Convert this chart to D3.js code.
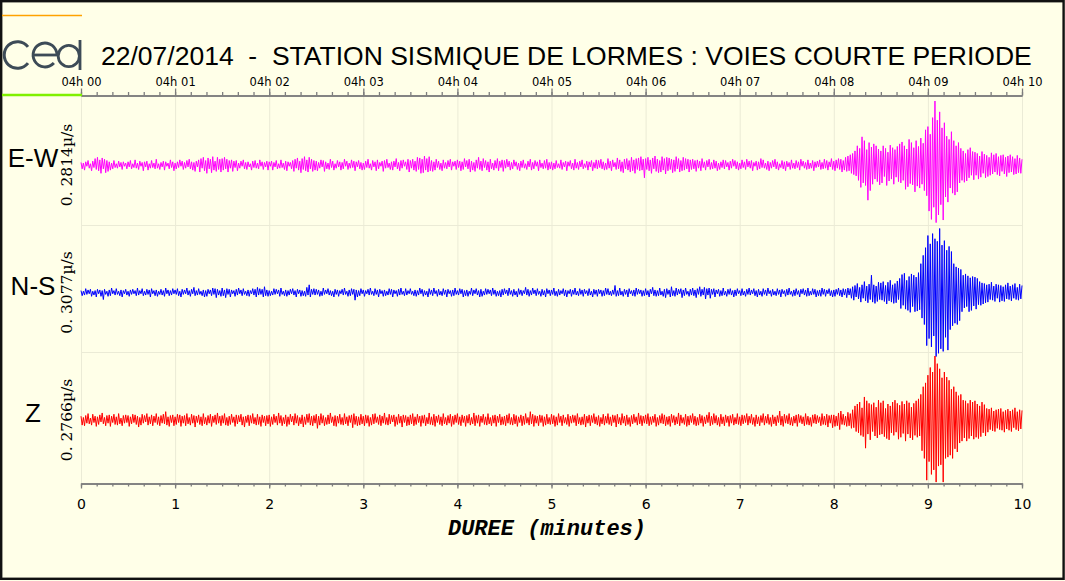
<!DOCTYPE html>
<html>
<head>
<meta charset="utf-8">
<title>Station sismique de Lormes</title>
<script src="https://d3js.org/d3.v7.min.js"></script>
<style>
  body { margin: 0; background: #ffffe8; }
  svg { display: block; }
</style>
</head>
<body>
<script>
// channel names, full scale labels and trace colours
const channels = ["E-W", "N-S", "Z"];
const scaleLabels = ["0. 2814\u00b5/s", "0. 3077\u00b5/s", "0. 2766\u00b5/s"];
const traceColors = ["#ff00ff", "#0000ff", "#ff0000"];

// axis ticks
const durationTicks = [0, 1, 2, 3, 4, 5, 6, 7, 8, 9, 10];
const clockLabels = ["04h 00", "04h 01", "04h 02", "04h 03", "04h 04", "04h 05",
                     "04h 06", "04h 07", "04h 08", "04h 09", "04h 10"];

// trace extrema, one every 0.75 s (0.0125 min),
// in % of the channel full scale; one line = half a minute
const ewAmp = [
  4,-6,3,-8,5,-2,7,-5,2,-9, 6,-4,10,-7,12,-9,8,-13,11,-6, 9,-12,7,-10,5,-8,3,-6,7,-4, 2,-5,6,-3,4,-7,5,-2,3,-6,
  5,-3,7,-6,2,-4,8,-5,3,-7, 6,-2,4,-9,5,-3,6,-8,2,-5, 7,-4,3,-6,9,-5,2,-7,4,-3, 6,-8,5,-2,3,-6,8,-4,5,-9,
  3,-6,5,-4,8,-2,6,-7,4,-5, 7,-3,9,-6,5,-8,4,-10,6,-3, 8,-11,10,-5,12,-9,7,-13,11,-6, 9,-12,13,-8,6,-10,12,-7,9,-11,
  10,-8,12,-6,9,-11,7,-5,8,-10, 6,-4,7,-9,3,-5,6,-2,8,-6, 4,-7,5,-3,2,-8,6,-4,7,-5, 3,-6,8,-2,5,-7,4,-3,6,-8,
  5,-2,6,-8,4,-3,7,-6,2,-5, 8,-4,3,-7,6,-9,5,-2,4,-6, 7,-10,9,-5,11,-8,6,-12,10,-7, 13,-9,8,-11,12,-6,9,-10,7,-8,
  6,-9,4,-5,8,-3,7,-10,5,-6, 3,-7,9,-4,6,-8,2,-5,7,-3, 5,-8,4,-6,9,-2,6,-7,3,-5, 8,-4,6,-9,5,-3,7,-6,4,-8,
  3,-7,6,-4,9,-5,2,-8,7,-3, 5,-9,8,-6,4,-2,6,-10,7,-5, 9,-4,3,-7,5,-8,6,-3,10,-6, 4,-9,7,-5,8,-2,5,-7,9,-11,
  7,-5,9,-8,6,-10,12,-7,11,-13, 9,-12,14,-8,10,-11,13,-9,7,-10, 5,-8,9,-4,6,-7,3,-9,8,-5, 4,-6,7,-3,9,-8,5,-2,6,-7,
  8,-4,6,-9,5,-7,10,-3,7,-6, 9,-11,6,-8,4,-10,8,-5,12,-7, 6,-9,10,-4,7,-8,5,-11,9,-6, 3,-8,7,-5,10,-9,6,-4,8,-10,
  7,-5,9,-3,6,-8,4,-6,8,-2, 5,-7,3,-9,6,-4,8,-5,2,-7, 6,-3,9,-8,4,-6,7,-2,5,-9, 8,-4,3,-6,7,-5,9,-8,4,-6,
  5,-8,3,-6,7,-4,2,-5,8,-7, 4,-3,6,-9,5,-2,7,-6,3,-8, 9,-5,4,-7,6,-3,8,-6,2,-4, 6,-8,5,-3,7,-9,4,-5,8,-6,
  7,-4,9,-6,5,-8,3,-7,10,-5, 6,-9,8,-3,4,-7,11,-6,8,-10, 5,-12,9,-6,10,-8,7,-11,12,-9, 8,-13,10,-7,11,-9,13,-8,9,-20,
  10,-7,12,-9,8,-13,11,-6,14,-10, 9,-12,7,-11,13,-8,10,-14,12,-9, 11,-7,9,-12,8,-10,13,-6,10,-11, 7,-9,12,-8,10,-6,9,-11,8,-7,
  9,-6,7,-10,8,-5,6,-9,10,-4, 5,-8,7,-3,9,-7,4,-6,8,-5, 6,-9,3,-7,5,-4,8,-6,7,-3, 4,-8,6,-5,9,-2,7,-6,5,-8,
  3,-6,8,-4,5,-7,9,-3,6,-5, 7,-9,4,-2,6,-8,5,-6,10,-4, 8,-5,3,-7,6,-9,4,-5,7,-3, 9,-6,5,-8,2,-4,7,-6,5,-9,
  6,-3,4,-7,8,-5,3,-6,7,-4, 5,-8,9,-2,6,-5,4,-7,8,-6, 3,-5,7,-9,5,-4,6,-3,8,-7, 4,-6,9,-5,7,-8,5,-3,10,-7,
  6,-9,8,-5,10,-7,9,-11,7,-8, 12,-10,14,-9,16,-13,18,-15,22,-17, 30,-24,26,-35,44,-28,38,-32,24,-55, 35,-40,28,-30,33,-22,30,-26,25,-31,
  22,-28,30,-18,26,-32,20,-25,31,-22, 27,-30,24,-19,29,-26,33,-28,36,-24, 30,-38,25,-34,40,-29,35,-31,27,-42, 38,-33,29,-36,42,-30,34,-40,55,-48,
  60,-72,48,-85,74,-66,100,-90,70,-78, 83,-62,58,-86,66,-50,45,-58,40,-36, 52,-44,38,-47,30,-42,35,-28,26,-24, 22,-27,18,-25,24,-20,27,-16,21,-23,
  20,-16,18,-22,14,-19,21,-13,17,-20, 15,-18,12,-16,19,-14,16,-11,18,-15, 13,-17,15,-10,16,-14,12,-18,14,-12, 16,-11,13,-15,10,-14,15,-12,11,-13,
  9
];
const nsAmp = [
  3,-5,2,-4,6,-3,4,-2,5,-6, 2,-4,3,-7,5,-2,4,-6,3,-11, 5,-3,2,-6,4,-5,7,-2,3,-4, 6,-3,2,-5,4,-7,3,-2,5,-4,
  2,-6,4,-3,5,-2,3,-5,7,-4, 3,-2,6,-5,2,-4,5,-3,4,-7, 6,-2,3,-5,4,-6,2,-3,5,-4, 3,-6,7,-2,4,-5,3,-4,6,-2,
  4,-3,6,-5,2,-7,5,-3,4,-2, 7,-4,3,-6,5,-2,8,-5,3,-4, 6,-3,2,-5,4,-7,3,-6,5,-2, 4,-5,7,-3,6,-8,5,-4,3,-6,
  7,-5,4,-8,6,-3,5,-7,4,-2, 3,-6,5,-4,7,-2,4,-5,6,-3, 2,-5,4,-6,3,-2,6,-4,5,-7, 8,-4,6,-3,5,-7,9,-5,4,-6,
  3,-5,2,-4,6,-3,5,-2,4,-6, 7,-3,2,-5,4,-6,3,-4,5,-2, 6,-4,3,-7,5,-2,4,-6,3,-5, 2,-6,8,-4,12,-7,5,-3,6,-4,
  5,-3,4,-6,2,-5,7,-3,4,-2, 6,-4,3,-5,2,-7,5,-3,4,-6, 3,-2,5,-4,7,-3,2,-6,4,-5, 6,-3,5,-12,4,-7,3,-5,6,-2,
  4,-6,3,-2,5,-4,7,-3,2,-5, 6,-3,4,-7,5,-2,3,-6,4,-5, 2,-4,6,-3,5,-7,4,-2,3,-6, 5,-4,7,-3,2,-5,6,-4,3,-2,
  6,-3,2,-5,4,-6,3,-4,7,-2, 5,-6,3,-4,2,-7,6,-3,4,-5, 7,-2,3,-6,5,-4,2,-5,6,-3, 4,-7,5,-2,3,-6,4,-5,7,-3,
  3,-4,6,-2,5,-7,3,-5,4,-6, 2,-3,7,-5,4,-2,6,-4,3,-7, 5,-6,2,-4,6,-3,5,-2,4,-5, 7,-3,4,-6,2,-5,3,-7,5,-4,
  6,-2,4,-5,7,-3,3,-6,5,-4, 2,-7,6,-3,4,-5,3,-2,8,-4, 5,-6,3,-4,7,-2,4,-5,6,-3, 2,-6,5,-4,3,-7,6,-2,4,-5,
  4,-3,7,-5,2,-6,5,-4,3,-2, 6,-5,4,-7,3,-2,5,-6,4,-3, 7,-4,2,-5,6,-3,4,-6,5,-2, 3,-5,6,-4,2,-7,5,-3,4,-6,
  5,-2,4,-6,3,-5,7,-3,6,-4, 2,-5,4,-3,11,-6,3,-5,7,-4, 2,-6,5,-3,4,-7,6,-2,3,-5, 4,-6,7,-3,5,-2,4,-6,3,-5,
  6,-4,3,-7,5,-2,8,-5,4,-6, 3,-5,7,-4,2,-6,5,-8,6,-3, 4,-7,9,-5,3,-6,7,-4,5,-2, 6,-8,4,-5,7,-3,2,-6,5,-4,
  7,-5,4,-8,6,-3,9,-6,5,-4, 8,-10,6,-4,7,-9,5,-3,6,-7, 4,-2,5,-6,3,-5,7,-4,2,-6, 5,-3,6,-4,3,-7,4,-5,6,-2,
  3,-5,6,-4,2,-6,5,-3,7,-4, 4,-2,6,-5,3,-7,5,-4,2,-6, 6,-3,4,-5,7,-2,3,-6,5,-4, 2,-5,6,-3,4,-7,5,-2,3,-6,
  5,-4,7,-3,2,-6,4,-5,6,-3, 3,-7,5,-2,6,-4,4,-6,7,-5, 2,-4,6,-3,5,-7,3,-5,4,-6, 7,-3,5,-6,4,-2,6,-5,3,-7,
  4,-6,5,-3,7,-5,4,-7,6,-4, 5,-8,7,-4,6,-9,9,-12,11,-7, 14,-10,8,-15,12,-9,17,-13,10,-16, 13,-11,27,-15,12,-17,10,-14,16,-11,
  15,-12,17,-14,11,-18,16,-13,19,-15, 12,-17,14,-16,18,-11,22,-25,28,-20, 30,-26,19,-28,25,-31,29,-22,27,-30, 24,-29,31,-27,45,-40,58,-50,70,-83,
  89,-72,76,-85,92,-68,84,-100,80,-95, 100,-88,74,-92,81,-70,66,-90,72,-58, 64,-52,45,-48,40,-50,38,-44,36,-30, 27,-24,29,-22,26,-30,23,-28,25,-21,
  24,-26,22,-19,17,-20,15,-18,14,-16, 12,-15,13,-11,16,-12,10,-14,13,-9, 12,-15,11,-13,9,-14,12,-10,15,-11, 10,-13,12,-9,14,-11,8,-12,13,-10,
  11
];
const zAmp = [
  6,-8,4,-9,7,-5,10,-6,3,-8, 9,-4,6,-10,5,-7,8,-3,11,-6, 4,-9,7,-5,8,-10,6,-4,9,-7, 5,-8,10,-6,3,-9,7,-5,8,-4,
  7,-10,5,-6,9,-4,8,-7,6,-11, 4,-8,9,-5,7,-3,10,-8,5,-6, 8,-9,6,-4,10,-7,5,-9,7,-5, 9,-6,13,-8,5,-10,7,-4,8,-9,
  5,-7,9,-4,8,-10,6,-5,7,-9, 10,-6,4,-8,9,-5,7,-11,6,-4, 8,-7,5,-9,10,-6,4,-8,7,-5, 9,-10,6,-4,8,-7,11,-5,6,-9,
  7,-5,10,-8,4,-9,6,-7,9,-4, 5,-10,8,-6,7,-3,9,-8,5,-11, 6,-4,8,-9,7,-5,10,-6,4,-8, 9,-7,5,-10,8,-4,6,-9,7,-6,
  8,-10,5,-7,9,-4,6,-8,11,-5, 7,-9,4,-6,8,-10,5,-7,9,-3, 6,-8,10,-5,7,-9,4,-6,8,-11, 5,-7,9,-4,10,-8,6,-9,7,-5,
  9,-13,6,-8,10,-5,7,-9,4,-7, 8,-6,11,-4,5,-9,7,-10,6,-5, 9,-7,4,-8,10,-6,5,-9,7,-4, 8,-12,10,-7,6,-9,5,-8,9,-6,
  6,-9,8,-5,7,-10,4,-8,9,-6, 10,-4,5,-7,8,-9,6,-5,11,-7, 4,-8,9,-6,7,-3,8,-10,5,-7, 9,-5,6,-11,8,-4,7,-9,5,-8,
  8,-6,10,-9,5,-7,9,-4,6,-10, 7,-5,8,-9,4,-6,11,-7,5,-8, 9,-10,6,-4,8,-7,5,-9,10,-6, 4,-8,7,-5,9,-10,6,-7,8,-4,
  10,-7,5,-9,8,-4,6,-10,7,-5, 9,-8,4,-6,11,-9,7,-5,8,-10, 6,-4,9,-7,5,-8,10,-6,4,-9, 7,-5,8,-10,6,-4,9,-8,5,-7,
  6,-9,8,-5,10,-7,4,-8,9,-6, 7,-10,5,-4,8,-9,6,-7,10,-5, 4,-8,13,-6,9,-10,7,-5,6,-9, 8,-4,7,-10,5,-8,9,-6,4,-7,
  9,-6,7,-10,5,-8,10,-4,6,-9, 8,-5,4,-7,9,-10,6,-5,8,-4, 7,-9,10,-6,4,-8,5,-7,9,-11, 6,-5,8,-9,7,-4,10,-6,5,-8,
  7,-10,4,-6,9,-8,6,-5,10,-7, 5,-9,8,-4,7,-11,9,-6,4,-8, 10,-5,6,-9,8,-7,4,-10,7,-6, 9,-4,5,-8,11,-6,7,-9,6,-5,
  8,-6,10,-9,5,-7,6,-4,9,-10, 4,-8,7,-5,10,-6,8,-9,5,-7, 6,-10,9,-4,7,-8,5,-6,11,-9, 8,-5,4,-7,9,-10,6,-8,7,-4,
  10,-7,6,-9,4,-8,9,-5,7,-10, 5,-6,8,-4,12,-9,6,-7,10,-5, 7,-8,4,-10,9,-6,5,-9,8,-4, 6,-10,7,-5,9,-8,4,-6,10,-7,
  5,-9,8,-6,7,-4,10,-8,6,-5, 9,-7,4,-10,8,-6,5,-9,7,-4, 10,-8,6,-5,9,-7,4,-10,8,-6, 5,-9,7,-4,14,-8,6,-10,9,-5,
  7,-6,10,-8,4,-9,6,-5,8,-10, 9,-4,7,-6,5,-9,10,-7,6,-8, 4,-10,8,-5,9,-6,7,-4,5,-9, 10,-7,6,-8,9,-11,7,-5,8,-12,
  8,-10,6,-9,11,-15,14,-7,9,-8, 6,-10,12,-9,10,-13,16,-12,22,-18, 25,-20,28,-24,19,-26,36,-44,30,-22, 26,-31,24,-18,27,-25,20,-28,31,-23,
  27,-22,30,-26,18,-29,25,-31,22,-20, 28,-24,31,-19,26,-30,23,-27,29,-21, 25,-33,30,-22,27,-28,20,-31,26,-24, 30,-27,33,-25,40,-48,52,-60,58,-94,
  70,-65,82,-85,75,-78,100,-97,88,-72, 80,-70,66,-97,75,-60,67,-58,62,-55, 48,-60,52,-45,44,-50,38,-36,40,-33, 31,-28,30,-33,26,-29,31,-25,28,-30,
  30,-27,25,-29,22,-26,28,-20,24,-25, 18,-19,17,-15,19,-17,14,-18,16,-13, 17,-15,18,-16,13,-19,15,-14,17,-16, 14,-18,16,-12,19,-15,13,-17,16,-14,
  15
];
const traces = [ewAmp, nsAmp, zAmp];

const W = 1065, H = 581;
const svg = d3.select("body").append("svg").attr("width", W).attr("height", H);

svg.append("rect").attr("width", W).attr("height", H).attr("fill", "#ffffe8");
svg.append("rect")
  .attr("x", 1.2).attr("y", 1.2).attr("width", W - 2.6).attr("height", H - 3.4)
  .attr("fill", "none").attr("stroke", "#111").attr("stroke-width", 2.4);

// scales
const x = d3.scaleLinear().domain([0, 10]).range([81, 1022]);
const row = d3.scalePoint().domain(channels).range([165, 420]);
const amp = d3.scaleLinear().domain([-100, 100]).range([64, -64]);

// faint grid
const grid = svg.append("g").attr("stroke", "#ebebd6").attr("stroke-width", 1);
grid.selectAll("line.v").data(durationTicks).join("line")
  .attr("class", "v")
  .attr("x1", d => x(d) + 0.5).attr("x2", d => x(d) + 0.5)
  .attr("y1", 96).attr("y2", 483);
grid.selectAll("line.h").data(channels.slice(1)).join("line")
  .attr("class", "h")
  .attr("x1", x(0)).attr("x2", x(10))
  .attr("y1", (d, i) => Math.round((row(channels[i]) + row(d)) / 2) - 3.5)
  .attr("y2", (d, i) => Math.round((row(channels[i]) + row(d)) / 2) - 3.5);

// traces
traces.forEach((vals, k) => {
  const c = row(channels[k]);
  const dt = 10 / (vals.length - 1);
  const line = d3.line()
    .x((v, i) => x(i * dt))
    .y(v => c + amp(v));
  svg.append("path")
    .attr("d", line(vals))
    .attr("fill", "none")
    .attr("stroke", traceColors[k])
    .attr("stroke-width", 1);
});

// top axis : clock time
const minor = d3.range(0, 61).map(k => k / 6);
function styleAxis(g) {
  g.attr("font-family", null).attr("font-size", null);
  g.selectAll("path, line").attr("stroke", "#7d7d7d").attr("stroke-width", 1.3);
}
svg.append("g").attr("transform", "translate(0,95.5)")
  .call(d3.axisTop(x).tickValues(minor).tickSize(3.5).tickSizeOuter(0).tickFormat(""))
  .call(styleAxis);
svg.append("g").attr("transform", "translate(0,95.5)")
  .call(d3.axisTop(x).tickValues(durationTicks).tickSize(7).tickSizeOuter(0)
    .tickPadding(2.5).tickFormat((d, i) => clockLabels[i]))
  .call(styleAxis)
  .selectAll("text")
  .style("font-family", "'DejaVu Sans', sans-serif")
  .style("font-size", "11.5px")
  .attr("fill", "#000");

// bottom axis : duration
svg.append("g").attr("transform", "translate(0,483.5)")
  .call(d3.axisBottom(x).tickValues(minor).tickSize(3).tickSizeOuter(0).tickFormat(""))
  .call(styleAxis);
svg.append("g").attr("transform", "translate(0,483.5)")
  .call(d3.axisBottom(x).tickValues(durationTicks).tickSize(5).tickSizeOuter(0)
    .tickPadding(10.5).tickFormat(d3.format("d")))
  .call(styleAxis)
  .selectAll("text")
  .style("font-family", "'DejaVu Sans', sans-serif")
  .style("font-size", "14px")
  .attr("fill", "#000");

svg.append("text")
  .attr("x", 547).attr("y", 535)
  .attr("text-anchor", "middle")
  .style("font-family", "'Liberation Mono', 'Courier New', monospace")
  .style("font-weight", "bold").style("font-style", "italic")
  .style("font-size", "22px")
  .text("DUREE (minutes)");

// channel names and full scale labels
svg.selectAll("text.chan").data(channels).join("text")
  .attr("class", "chan")
  .attr("x", 33).attr("y", d => row(d) + 2)
  .attr("text-anchor", "middle")
  .style("font-family", "'Liberation Sans', Arial, sans-serif")
  .style("font-size", "26px")
  .text(d => d);
svg.selectAll("text.fs").data(channels).join("text")
  .attr("class", "fs")
  .attr("transform", d => "translate(72," + row(d) + ") rotate(-90)")
  .attr("text-anchor", "middle")
  .style("font-family", "'DejaVu Serif', serif")
  .style("font-size", "15.5px")
  .text((d, i) => scaleLabels[i]);

// title
svg.append("text")
  .attr("x", 101).attr("y", 65)
  .style("font-family", "'Liberation Sans', Arial, sans-serif")
  .style("font-size", "26.5px")
  .style("white-space", "pre")
  .text("22/07/2014  -  STATION SISMIQUE DE LORMES : VOIES COURTE PERIODE");

// logo
svg.append("line").attr("x1", 2).attr("x2", 82).attr("y1", 15.5).attr("y2", 15.5)
  .attr("stroke", "#ffa200").attr("stroke-width", 1.6);
svg.append("line").attr("x1", 2).attr("x2", 82).attr("y1", 95).attr("y2", 95)
  .attr("stroke", "#80f000").attr("stroke-width", 2.6);
const logo = svg.append("g").attr("fill", "#3d4b57");
const ring = d3.arc();
const deg = Math.PI / 180;
logo.append("path").attr("transform", "translate(17.5,55)")
  .attr("d", ring({innerRadius: 11.8, outerRadius: 14.8, startAngle: 128 * deg, endAngle: 412 * deg}));
logo.append("path").attr("transform", "translate(45,55)")
  .attr("d", ring({innerRadius: 10.5, outerRadius: 13.4, startAngle: 132 * deg, endAngle: 450 * deg}));
logo.append("rect").attr("x", 32).attr("y", 53.6).attr("width", 26).attr("height", 2.8);
logo.append("path").attr("transform", "translate(68.8,56)")
  .attr("d", ring({innerRadius: 9.2, outerRadius: 12, startAngle: 0, endAngle: 2 * Math.PI}));
logo.append("rect").attr("x", 78.6).attr("y", 40).attr("width", 2.8).attr("height", 30);
</script>
</body>
</html>
